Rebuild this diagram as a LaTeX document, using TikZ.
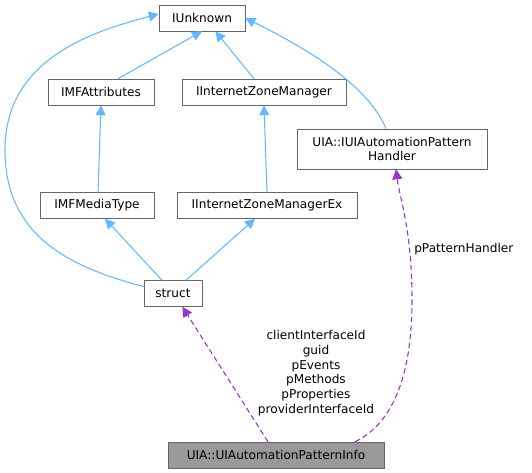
\documentclass[tikz,border=0pt]{standalone}
\usepackage{fontspec}
\setmainfont{DejaVu Sans}
\usetikzlibrary{arrows.meta}
\definecolor{inhblue}{HTML}{63B8FF}
\definecolor{usepurple}{HTML}{9A32CD}
\definecolor{boxgray}{HTML}{666666}
\definecolor{infofill}{HTML}{999999}
\tikzset{
  cls/.style={draw=boxgray, fill=white, font=\fontsize{9.1}{11}\selectfont, inner sep=0pt, minimum height=19.5pt, align=center},
  inh/.style={-{Triangle[length=7.5pt,width=7.5pt]}, inhblue, thick},
  uses/.style={-{Triangle[length=7.5pt,width=7.5pt]}, usepurple, thick, dash pattern=on 4pt off 2.5pt},
  lbl/.style={font=\fontsize{9.1}{11}\selectfont, align=center, inner sep=0pt}
}
\begin{document}
\begin{tikzpicture}[x=0.75pt,y=-0.75pt] % one unit is one pixel of the reference
    \useasboundingbox (0,0) rectangle (532,473);

    % Draw the classes
    \node[cls, minimum width=64.5pt] (iunknown) at (202,18) {IUnknown};
    \node[cls, minimum width=79.5pt] (imfattr) at (101,92) {IMFAttributes};
    \node[cls, minimum width=123pt] (izone) at (264,92) {IInternetZoneManager};
    \node[cls, minimum width=142.5pt, minimum height=30pt, font=\fontsize{9.1}{10.7}\selectfont] (handler) at (392,149) {UIA::IUIAutomationPattern\\Handler};
    \node[cls, minimum width=85.5pt] (imfmedia) at (97,205.5) {IMFMediaType};
    \node[cls, minimum width=135pt] (izoneex) at (267,205.5) {IInternetZoneManagerEx};
    \node[cls, minimum width=43.5pt] (struct) at (173,293.5) {struct};
    \node[cls, minimum width=162pt, fill=infofill] (info) at (276,455) {UIA::UIAutomationPatternInfo};

    % Inheritance edges
    \draw[inh] (imfattr.north) ++(17,0) -- (iunknown.south);
    \draw[inh] (izone.north) ++(-10,0) -- ([xshift=10pt]iunknown.south);
    \draw[inh] (handler.north) ++(-6,0) .. controls (370,90) and (320,55) .. (iunknown.east);
    \draw[inh] (struct.west) ++(0,-7) .. controls (60,265) and (5,230) .. (5,150)
        .. controls (5,60) and (90,32) .. ([yshift=3pt]iunknown.west);
    \draw[inh] (imfmedia.north) ++(1,0) -- (imfattr.south);
    \draw[inh] (izoneex.north) -- (izone.south);
    \draw[inh] (struct.north) ++(-11,0) -- ([xshift=6pt]imfmedia.south);
    \draw[inh] (struct.north) ++(13,0) -- ([xshift=-9pt]izoneex.south);

    % Usage edges
    \draw[uses] (info.north) ++(-8,0) -- ([xshift=7pt]struct.south);
    \draw[uses] (info.north) ++(79,0) .. controls (400,420) and (412,360) .. (412,300)
        .. controls (412,230) and (400,200) .. ([xshift=3pt]handler.south);

    % Edge labels
    \node[lbl] (fieldlbl) at (316,373) {clientInterfaceId\\guid\\pEvents\\pMethods\\pProperties\\providerInterfaceId};
    \node[lbl, anchor=west] (handlerlbl) at (414,249) {pPatternHandler};
\end{tikzpicture}
\end{document}
